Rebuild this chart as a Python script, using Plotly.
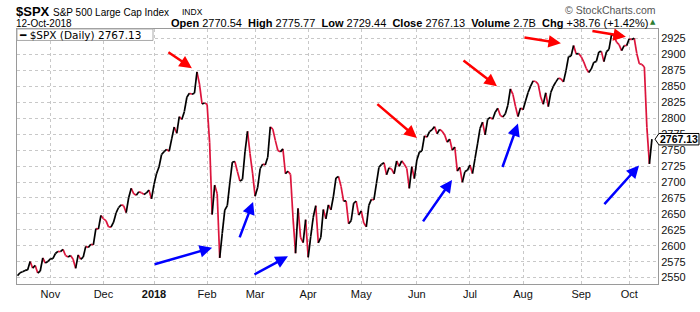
import plotly.graph_objects as go

# ---- Daily closes of $SPX, 13-Oct-2017 .. 12-Oct-2018 ----
oct17 = [2553.17, 2557.64, 2559.36, 2561.26, 2562.10, 2575.21, 2564.98, 2569.13, 2557.15, 2560.40,
         2581.07, 2572.83, 2575.26]
nov17 = [2579.36, 2579.85, 2587.84, 2591.13, 2590.64, 2594.38, 2584.62, 2582.30, 2584.84, 2578.87,
         2564.62, 2585.64, 2578.85, 2582.14, 2599.03, 2597.08, 2602.42, 2601.42, 2627.04, 2626.07, 2647.58]
dec17 = [2642.22, 2639.44, 2629.57, 2629.27, 2636.98, 2651.50, 2659.99, 2664.11, 2662.85, 2652.01,
         2675.81, 2690.16, 2681.47, 2679.25, 2684.57, 2683.34, 2680.50, 2682.62, 2687.54, 2673.61]
jan18 = [2695.81, 2713.06, 2723.99, 2743.15, 2747.71, 2751.29, 2748.23, 2767.56, 2786.24, 2776.42,
         2802.56, 2798.03, 2810.30, 2832.97, 2839.13, 2837.54, 2839.25, 2872.87, 2853.53, 2822.43, 2823.81]
feb18 = [2821.98, 2762.13, 2648.94, 2695.14, 2681.66, 2581.00, 2619.55, 2656.00, 2662.94, 2698.63,
         2731.20, 2732.22, 2716.26, 2701.33, 2703.96, 2747.30, 2779.60, 2744.28, 2713.83]
mar18 = [2677.67, 2691.25, 2720.94, 2728.12, 2726.80, 2738.97, 2786.57, 2783.02, 2765.31, 2749.48,
         2747.33, 2752.01, 2712.92, 2716.94, 2711.93, 2643.69, 2588.26, 2658.55, 2612.62, 2605.00, 2640.87]
apr18 = [2581.88, 2614.45, 2644.69, 2662.84, 2604.47, 2613.16, 2656.87, 2642.19, 2663.99, 2656.30,
         2677.84, 2706.39, 2708.64, 2693.13, 2670.14, 2670.29, 2634.56, 2639.40, 2666.94, 2669.91, 2648.05]
may18 = [2654.80, 2635.67, 2629.73, 2663.42, 2672.63, 2671.92, 2697.79, 2723.07, 2727.72, 2730.13,
         2711.45, 2722.46, 2720.13, 2712.97, 2733.01, 2724.44, 2733.29, 2727.76, 2721.33, 2689.86,
         2724.01, 2705.27]
jun18 = [2734.62, 2746.87, 2748.80, 2772.35, 2770.37, 2779.03, 2782.00, 2786.85, 2775.63, 2782.49,
         2779.66, 2773.75, 2762.59, 2767.32, 2749.76, 2754.88, 2717.07, 2723.06, 2699.63, 2716.31, 2718.37]
jul18 = [2726.71, 2713.22, 2736.61, 2759.82, 2784.17, 2793.84, 2774.02, 2798.29, 2801.31, 2798.43,
         2809.55, 2815.62, 2804.49, 2801.83, 2806.98, 2820.40, 2846.07, 2837.44, 2818.82, 2802.60, 2816.29]
aug18 = [2813.36, 2827.22, 2840.35, 2850.40, 2858.45, 2857.70, 2853.58, 2833.28, 2821.93, 2839.96,
         2818.37, 2840.69, 2850.13, 2857.05, 2862.96, 2861.82, 2856.98, 2874.69, 2896.74, 2897.52,
         2914.04, 2901.13, 2901.52]
sep18 = [2896.72, 2888.60, 2878.05, 2871.68, 2877.13, 2887.89, 2888.92, 2904.18, 2904.98, 2888.80,
         2904.31, 2907.95, 2930.75, 2929.67, 2919.37, 2915.56, 2905.97, 2914.00, 2913.98]
oct18 = [2924.59, 2923.43, 2925.51, 2901.61, 2885.57, 2884.43, 2880.34, 2785.68, 2728.37, 2767.13]

month_blocks = [oct17, nov17, dec17, jan18, feb18, mar18, apr18, may18, jun18, jul18, aug18, sep18, oct18]
tick_labels = ["Nov", "Dec", "<b>2018</b>", "Feb", "Mar", "Apr", "May", "Jun", "Jul", "Aug", "Sep", "Oct"]
y_ticks = [2550, 2575, 2600, 2625, 2650, 2675, 2700, 2725, 2750, 2775, 2800, 2825, 2850, 2875, 2900, 2925]

# hand-drawn arrows: (trading-day index, value at head, tail dx px, tail dy px, colour)
arrows = [
    (69.0, 2878.6, -25, -17, "#FF0000"),
    (158.0, 2769.2, -41, -35, "#FF0000"),
    (189.7, 2850.1, -35, -27, "#FF0000"),
    (215.0, 2917.5, -38, -6, "#FF0000"),
    (240.7, 2928.0, -35, -6, "#FF0000"),
    (77.0, 2596.9, -59, 17, "#0000FF"),
    (93.2, 2668.8, -14, 37, "#0000FF"),
    (107.0, 2583.4, -35, 19, "#0000FF"),
    (171.9, 2703.3, -30, 43, "#0000FF"),
    (198.0, 2791.7, -16, 45, "#0000FF"),
    (245.9, 2725.8, -36, 40, "#0000FF"),
]

closes = [v for blk in month_blocks for v in blk]
n = len(closes)
tick_pos = []
acc = 0
for blk in month_blocks[:-1]:
    acc += len(blk)
    tick_pos.append(acc)

# split into up (black) and down (red) segments
ux, uy, dx, dy = [], [], [], []
for i in range(1, n):
    if closes[i] >= closes[i - 1]:
        ux += [i - 1, i, None]; uy += [closes[i - 1], closes[i], None]
    else:
        dx += [i - 1, i, None]; dy += [closes[i - 1], closes[i], None]

W, H = 700, 312
ML, MR, MT, MB = 17, 42, 29, 16
PW, PH = W - ML - MR, H - MT - MB
YMIN, YMAX = 2540, 2940


def px(x):
    return (x - ML) / PW


def py(y):
    return 1 - (y - MT) / PH


fig = go.Figure()
fig.add_trace(go.Scatter(x=dx, y=dy, mode="lines", line=dict(color="#DC143C", width=1.7),
                         hoverinfo="skip", connectgaps=False))
fig.add_trace(go.Scatter(x=ux, y=uy, mode="lines", line=dict(color="#000000", width=1.7),
                         hoverinfo="skip", connectgaps=False))

ann = []
F = "Liberation Sans, Arial, sans-serif"
# header
ann.append(dict(text="<b>$SPX</b>", x=px(15), y=py(11), font=dict(size=13, family=F, color="#000")))
ann.append(dict(text="S&P 500 Large Cap Index", x=px(52), y=py(11.5), font=dict(size=10, family=F, color="#000")))
ann.append(dict(text="INDX", x=px(181), y=py(11.5), font=dict(size=8.5, family=F, color="#000")))
ann.append(dict(text="12-Oct-2018", x=px(15), y=py(23), font=dict(size=10, family=F, color="#000")))
ann.append(dict(text="<b>Open</b> 2770.54\u00a0 <b>High</b> 2775.77\u00a0 <b>Low</b> 2729.44\u00a0 "
                     "<b>Close</b> 2767.13\u00a0 <b>Volume</b> 2.7B\u00a0 <b>Chg</b> +38.76 (+1.42%)",
                x=px(649), y=py(22.5), xanchor="right", font=dict(size=11, family=F, color="#000")))
ann.append(dict(text="\u25B2", x=px(649), y=py(21.5), font=dict(size=7, family="DejaVu Sans", color="#2E7D32")))
ann.append(dict(text="\u00a9 StockCharts.com", x=px(657), y=py(9.5), xanchor="right",
                font=dict(size=10.5, family=F, color="#555")))
# legend text
ann.append(dict(text="\u2501 $SPX (Daily) %.2f" % closes[-1], x=px(18), y=py(35),
                font=dict(size=10.5, family="DejaVu Sans", color="#000")))
# last price label text
last_py = (closes[-1] - YMIN) / (YMAX - YMIN)
ann.append(dict(text="<b>%.2f</b>" % closes[-1], x=px(678.5), y=last_py, xanchor="center",
                font=dict(size=10.5, family=F, color="#000")))

for a in ann:
    a.setdefault("xanchor", "left")
    a.update(xref="paper", yref="paper", yanchor="middle", showarrow=False, borderpad=0)

for (xi, yv, ax, ay, col) in arrows:
    ann.append(dict(x=xi, y=yv, xref="x", yref="y", ax=ax, ay=ay, text="", showarrow=True,
                    arrowhead=2, arrowwidth=2.5, arrowsize=1.0, arrowcolor=col, standoff=0))

# legend box and price label box
hh = 6 / PH
shapes = [
    dict(type="rect", xref="paper", yref="paper", x0=0, x1=px(153), y0=py(41), y1=1,
         fillcolor="white", line=dict(color="#aaaaaa", width=1), layer="above"),
    dict(type="path", xref="paper", yref="paper",
         path="M %f %f L %f %f L %f %f L %f %f L %f %f Z" % (
             px(655), last_py, px(659), last_py + hh, px(699), last_py + hh,
             px(699), last_py - hh, px(659), last_py - hh),
         fillcolor="white", line=dict(color="#000", width=1), layer="above"),
]

fig.update_layout(
    width=W, height=H, margin=dict(l=ML, r=MR, t=MT, b=MB),
    paper_bgcolor="white", plot_bgcolor="white", showlegend=False,
    font=dict(family=F, size=11, color="#000"),
    annotations=ann, shapes=shapes,
    xaxis=dict(range=[-0.2, 253.4], tickmode="array", tickvals=tick_pos, ticktext=tick_labels,
               showgrid=True, gridcolor="#c8c8c8", griddash="dot", gridwidth=1,
               showline=True, mirror=True, linecolor="#9a9a9a", linewidth=1,
               ticks="", zeroline=False, tickfont=dict(size=11, family=F, color="#111")),
    yaxis=dict(range=[YMIN, YMAX], side="right", tickmode="array", tickvals=y_ticks,
               showgrid=True, gridcolor="#c8c8c8", griddash="dot", gridwidth=1,
               showline=True, mirror=True, linecolor="#9a9a9a", linewidth=1,
               ticks="", zeroline=False,
               tickfont=dict(size=11, family=F, color="#111")),
)

fig.write_html("out.html")
